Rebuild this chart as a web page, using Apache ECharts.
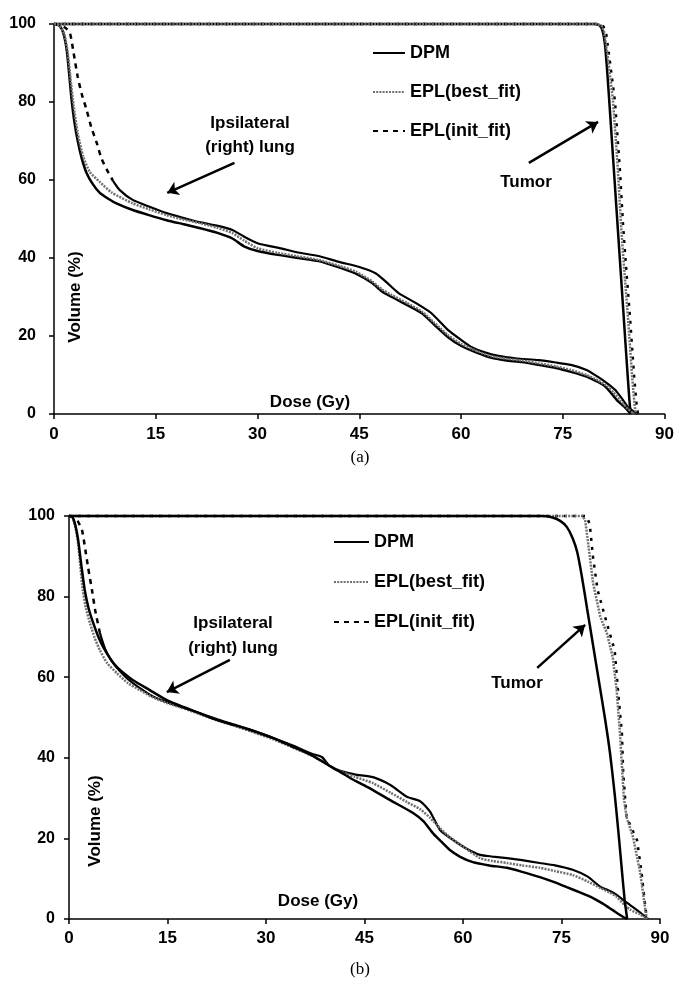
<!DOCTYPE html>
<html>
<head>
<meta charset="utf-8">
<script src="https://cdn.jsdelivr.net/npm/echarts@6/dist/echarts.min.js"></script>
<style>html,body{margin:0;padding:0;background:#fff}#c{width:677px;height:981px}</style>
</head>
<body>
<div id="c"></div>
<script>
// ---- Data: [dose (Gy), volume (%)] ----
const xTicks = [0, 15, 30, 45, 60, 75, 90];
const yTicks = [0, 20, 40, 60, 80, 100];
const legendNames = ['DPM', 'EPL(best_fit)', 'EPL(init_fit)'];

// Panel (a) - lung
const aLungDPM = [[0,100],[0.8,99.6],[1.4,97.5],[1.9,93],[2.3,86],[2.6,80.5],[3.0,75],[3.5,70],[4.1,65.5],[4.8,61.8],[5.7,59],[6.75,56.7],[8,55.2],[9.2,54],[11.6,52.3],[14,51],[16.6,49.7],[19,48.7],[21.4,47.7],[24,46.5],[26.3,45],[28,43],[30,41.8],[33,40.8],[36,40],[39,39.2],[42,37.6],[44.5,36],[46.9,33.6],[48.3,31.5],[49.8,30],[52,28],[54.2,25.9],[56,23],[58.1,19.7],[60,17.5],[62.5,15.6],[64.5,14.4],[66.5,13.8],[69,13.3],[71.4,12.6],[74,11.8],[76.2,10.8],[78.5,9.6],[80.2,8.2],[81.3,7],[82.1,5.4],[83,3.5],[84.1,1.8],[85,0]];
const aLungBest = [[0,100],[0.8,99.6],[1.5,97.5],[2,93],[2.5,85],[2.9,79],[3.5,72],[4.3,66],[5.3,62],[6.75,59.5],[8.5,56.8],[11.6,54],[14,52.5],[16.6,51],[19,49.9],[21.4,49],[24,47.8],[26.3,46.4],[28,44.5],[30,42.5],[33,41.3],[36,40.4],[39,39.5],[42,38],[44.5,36.5],[46.9,34],[48.3,32],[49.8,30.5],[52,28.5],[54.2,26.3],[56,23.5],[58.1,20.2],[60,18],[62.5,16],[64.5,14.8],[66.5,14.2],[69,13.7],[71.4,13],[74,12.2],[76.2,11.3],[78.5,10],[80.2,8.6],[81.5,7.2],[82.5,5.5],[83.5,3.5],[84.5,1.5],[85.5,0]];
const aLungInitSteep = [[0,100],[1,99.6],[1.7,99],[2.35,97.7],[2.9,92.5],[3.5,86.4],[4.1,82],[4.8,78],[5.5,73.5],[6.3,69.5],[7,65.5],[7.8,62.6],[8.7,59.8]];
const aLungInitTail = [[8.7,59.8],[9.7,57.4],[11.6,54.9],[14,53.2],[16.6,51.5],[19,50.3],[21.4,49.2],[24,48.3],[26.3,47.2],[28,45.5],[30,43.8],[33.6,42.4],[36,41.4],[39,40.5],[42,39],[45,37.7],[47.4,36.1],[49,33.8],[50.8,31],[53.3,28.5],[55.6,25.9],[58.1,21.5],[60,19],[61.5,17.2],[63.5,15.8],[65.5,14.9],[68,14.3],[71.4,13.8],[74,13.2],[76.2,12.6],[78.5,11.3],[80.2,9.5],[81.5,7.9],[82.7,6.2],[83.7,4],[84.6,1.8],[86,0]];
// Panel (a) - tumor
const aTumDPM = [[0,100],[79.8,100],[80.5,99.5],[80.9,98],[81.2,95],[81.5,89],[81.9,79],[82.4,66],[82.9,53],[83.4,40],[83.9,27],[84.4,14],[84.8,4],[85,0]];
const aTumBest = [[0,100],[80,100],[80.7,99.6],[81.1,98],[81.6,92],[82.4,80.5],[83.1,63.3],[83.6,48],[84.1,36],[84.6,25],[85.2,10],[85.6,2],[85.8,0]];
const aTumInit = [[0,100],[80.2,100],[81,99.4],[81.4,97.5],[81.9,91],[82.7,80],[83.4,63],[83.9,48],[84.4,36],[84.9,25],[85.5,10],[85.9,2],[86.1,0]];

// Panel (b) - lung
const bLungDPM = [[0,100],[0.5,99.8],[1,97.5],[1.4,94],[1.9,87.5],[2.4,81.6],[3,77],[3.7,73.4],[4.4,70.3],[5.2,67.5],[6.2,64.8],[7.3,62.5],[8.5,60.8],[9.7,59.3],[12.3,56.8],[14.9,54.3],[17.4,52.6],[20,51],[22.5,49.4],[25,48.2],[27.6,46.9],[31.1,44.9],[34,42.8],[37,40.6],[40.2,37.5],[41.3,36.5],[43,34.8],[45.4,32.8],[48.9,29.5],[52.4,26.3],[54,24.2],[55.4,21.3],[56.5,19.5],[58,17.1],[59.5,15.5],[61.5,14.1],[64,13.3],[66.7,12.7],[69,11.7],[71.7,10.4],[73.8,9.2],[75.8,7.9],[77.8,6.6],[79.8,5.2],[81.3,3.8],[82.8,2.2],[84.4,0.5],[85,0]];
const bLungBest = [[0,100],[0.5,99.8],[1,97],[1.4,93],[1.7,88],[2.1,81.6],[2.6,77],[3.2,73.4],[3.9,69.8],[4.7,66.7],[5.8,63.5],[7.3,61],[9,58.5],[10.8,56.8],[12.8,55],[14.9,53.6],[17.4,52.3],[20,50.8],[22.5,49.3],[25,48],[27.6,46.6],[31.1,44.6],[34,42.6],[37,40.5],[40.2,37.6],[41.3,36.6],[43.5,35.3],[46.3,33.7],[49,31.3],[51.5,29],[53.5,27.2],[55,25.1],[56.5,22.5],[58,20.3],[60,18],[62.6,15.1],[64.5,14.4],[66.7,13.9],[69,13.3],[71.7,12.7],[74,11.9],[76.7,10.9],[79,9.3],[80.9,7.7],[82.3,6.6],[83.4,5.5],[84.6,3.5],[85.5,2.3],[86.9,1.2],[87.7,0.3],[88,0]];
const bLungInitSteep = [[0,100],[0.6,99.8],[1.3,98.8],[1.98,96.5],[2.5,91.5],[2.9,87.3],[3.5,81.6],[4,76.5],[4.7,71]];
const bLungInitTail = [[4.7,71],[5.5,67],[6.5,64],[7.5,62],[9,59.5],[10.8,57.3],[12.8,55.2],[14.9,53.8],[17.4,52.4],[20,51],[22.5,49.6],[25,48.3],[27.6,47],[31.1,44.9],[34,43.1],[37,41],[38.5,40.2],[39.7,38],[41.3,36.8],[43.5,35.9],[46.3,35.2],[49,33.2],[51.5,30.3],[53.5,29.2],[55,26.6],[56.5,22.1],[58.5,19.6],[60.5,17.5],[62.6,15.9],[64.5,15.5],[66.7,15.1],[69,14.6],[71.7,13.9],[74,13.3],[76.7,12.2],[79,10.5],[80.9,8],[82.3,7],[83.4,6],[85,4],[86.9,1.7],[88.2,0]];
// Panel (b) - tumor
const bTumDPM = [[0,100],[72,100],[73.5,99.7],[74.8,98.8],[75.8,97.3],[76.7,94.5],[77.4,91],[78.1,85],[78.9,77],[79.8,68],[80.7,59],[81.6,50],[82.4,41],[83.1,31],[83.7,21],[84.2,12],[84.6,5],[85,0]];
const bTumBest = [[0,100],[78.2,100],[78.6,99],[79,94],[79.8,83.4],[80.9,75],[81.9,71],[82.8,65],[83.4,56.8],[83.9,46.2],[84.2,38],[84.5,30],[84.9,25.3],[85.9,20.3],[87,11.4],[87.7,3],[88,0]];
const bTumInit = [[0,100],[78.8,100],[79.3,98],[79.8,89.8],[80.5,81.6],[81.9,73.4],[83.1,66.7],[83.6,56.8],[84.2,46],[84.4,36.2],[84.9,25.3],[86.5,19.6],[87.2,11.4],[87.7,4],[88,0]];

// Annotation arrows (data coords: tail -> head)
const aLungArrow = [[26.6,64.4],[16.7,56.7]];
const aTumArrow = [[70,64.4],[80.2,74.9]];
const bLungArrow = [[24.5,64.3],[14.9,56.3]];
const bTumArrow = [[71.3,62.3],[78.6,73]];

// ---- Chart ----
const FONT = '"Liberation Sans", Arial, sans-serif';
const chart = echarts.init(document.getElementById('c'), null, {renderer: 'canvas'});

const sDPM = {color: '#000', width: 2.5, type: 'solid'};
const sBest = {color: '#707070', width: 2.5, type: [2, 1.2]};
const sInitDash = {color: '#000', width: 2.5, type: [5, 5]};
const sInitTum = {color: '#000', width: 2.5, type: [3, 6]};
const sInitSolid = {color: '#000', width: 2.2, type: 'solid'};

function line(name, data, idx, style, smooth, extra) {
  return Object.assign({
    type: 'line', name: name, data: data, xAxisIndex: idx, yAxisIndex: idx,
    symbol: 'none', showSymbol: false, clip: false, smooth: smooth || false,
    lineStyle: style, itemStyle: {color: style.color}, silent: true, animation: false
  }, extra || {});
}
function arrows(list) {
  return {
    silent: true, symbol: ['none', 'arrow'], symbolSize: 11, animation: false,
    lineStyle: {color: '#000', width: 2.5, type: 'solid'}, label: {show: false},
    data: list.map(a => [{coord: a[0]}, {coord: a[1]}])
  };
}

function xAx(idx) {
  return {
    type: 'value', gridIndex: idx, min: 0, max: 90, interval: 15,
    axisLine: {lineStyle: {color: '#000', width: 1.5}},
    axisTick: {show: true, length: 5, lineStyle: {color: '#000', width: 1.5}},
    splitLine: {show: false},
    axisLabel: {color: '#000', fontFamily: FONT, fontWeight: 'bold', fontSize: 17, margin: 12 + idx * -1,
      customValues: xTicks}
  };
}
function yAx(idx) {
  return {
    type: 'value', gridIndex: idx, min: 0, max: 100, interval: 20,
    axisLine: {show: true, lineStyle: {color: '#000', width: 1.5}},
    axisTick: {show: true, length: 5, lineStyle: {color: '#000', width: 1.5}},
    splitLine: {show: false},
    axisLabel: {color: '#000', fontFamily: FONT, fontWeight: 'bold', fontSize: 16, margin: idx === 0 ? 18 : 14,
      customValues: yTicks}
  };
}

const txt = (x, y, text, size, opts) => Object.assign({
  type: 'text', x: x, y: y, silent: true,
  style: Object.assign({text: text, fill: '#000', font: 'bold ' + size + 'px ' + FONT, align: 'center', verticalAlign: 'middle'}, (opts && opts.style) || {})
}, opts && opts.rot ? {rotation: opts.rot} : {});

const legendCommon = {
  data: legendNames, orient: 'vertical', itemHeight: 14, padding: 0, selectedMode: false,
  itemStyle: {opacity: 0, borderWidth: 0},
  textStyle: {color: '#000', fontFamily: FONT, fontWeight: 'bold', fontSize: 18, lineHeight: 18}
};

const option = {
  backgroundColor: '#fff',
  animation: false,
  grid: [
    {left: 54, top: 24, width: 613, height: 390},
    {left: 69, top: 516, width: 591, height: 403}
  ],
  xAxis: [xAx(0), xAx(1)],
  yAxis: [yAx(0), yAx(1)],
  legend: [
    Object.assign({}, legendCommon, {left: 372, top: 44, itemWidth: 32, itemGap: 21}),
    Object.assign({}, legendCommon, {left: 333, top: 533, itemWidth: 35, itemGap: 22})
  ],
  series: [
    // panel a
    line('EPL(init_fit)', aLungInitSteep, 0, sInitDash, 0.2),
    line('EPL(init_fit)', aLungInitTail, 0, sInitSolid, 0.2),
    line('EPL(init_fit)', aTumInit, 0, sInitTum, false),
    line('DPM', aLungDPM, 0, sDPM, 0.2, {markLine: arrows([aLungArrow, aTumArrow])}),
    line('DPM', aTumDPM, 0, sDPM, 0.2),
    line('EPL(best_fit)', aLungBest, 0, sBest, 0.2),
    line('EPL(best_fit)', aTumBest, 0, sBest, false),
    // panel b
    line('EPL(init_fit)', bLungInitSteep, 1, sInitDash, 0.2),
    line('EPL(init_fit)', bLungInitTail, 1, sInitSolid, 0.2),
    line('EPL(init_fit)', bTumInit, 1, sInitTum, false),
    line('EPL(best_fit)', bLungBest, 1, sBest, 0.2),
    line('EPL(best_fit)', bTumBest, 1, sBest, false),
    line('DPM', bLungDPM, 1, sDPM, 0.2, {markLine: arrows([bLungArrow, bTumArrow])}),
    line('DPM', bTumDPM, 1, sDPM, 0.2)
  ],
  graphic: [
    txt(250, 123, 'Ipsilateral', 17),
    txt(250, 147, '(right) lung', 17),
    txt(526, 182, 'Tumor', 17),
    txt(75, 297, 'Volume (%)', 17, {rot: Math.PI / 2}),
    txt(310, 402, 'Dose (Gy)', 17),
    {type: 'text', x: 360, y: 458, silent: true, style: {text: '(a)', fill: '#000', font: '17px "Liberation Serif", "Times New Roman", serif', align: 'center', verticalAlign: 'middle'}},
    txt(233, 623, 'Ipsilateral', 17),
    txt(233, 648, '(right) lung', 17),
    txt(517, 683, 'Tumor', 17),
    txt(95, 821, 'Volume (%)', 17, {rot: Math.PI / 2}),
    txt(318, 901, 'Dose (Gy)', 17),
    {type: 'text', x: 360, y: 970, silent: true, style: {text: '(b)', fill: '#000', font: '17px "Liberation Serif", "Times New Roman", serif', align: 'center', verticalAlign: 'middle'}}
  ]
};
chart.setOption(option);
</script>
</body>
</html>
